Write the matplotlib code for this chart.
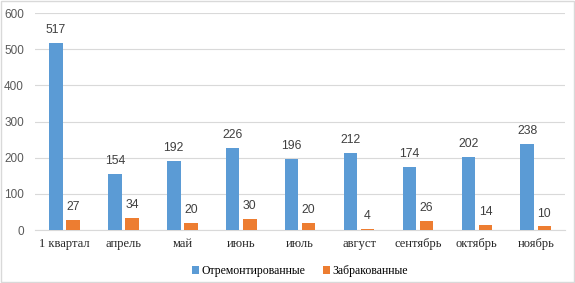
import numpy as np
import matplotlib
matplotlib.use("Agg")
import matplotlib.pyplot as plt

categories = ["1 квартал", "апрель", "май", "июнь", "июль", "август", "сентябрь", "октябрь", "ноябрь"]
repaired = [517, 154, 192, 226, 196, 212, 174, 202, 238]
rejected = [27, 34, 20, 30, 20, 4, 26, 14, 10]
yticks = [0, 100, 200, 300, 400, 500, 600]

BLUE, ORANGE, GRAY = "#5B9BD5", "#ED7D31", "#595959"

fig = plt.figure(figsize=(5.75, 2.83), dpi=100)
ax = fig.add_axes([0.061, 0.187, 0.922, 0.767])
x = np.arange(len(categories))
w = 0.23
b1 = ax.bar(x - w / 2 - 0.03, repaired, w, color=BLUE, label="Отремонтированные", zorder=3)
b2 = ax.bar(x + w / 2 + 0.03, rejected, w, color=ORANGE, label="Забракованные", zorder=3)
for bars in (b1, b2):
    ax.bar_label(bars, padding=5, fontsize=8.8, color="#404040", family="Liberation Sans")

ax.set_xlim(-0.5, len(categories) - 0.5)
ax.set_ylim(0, 600)
ax.set_yticks(yticks)
ax.set_xticks(x)
ax.set_xticklabels(categories, family="Liberation Serif", fontsize=9, color="#262626")
ax.tick_params(axis="x", length=0, pad=6)
ax.tick_params(axis="y", length=0, pad=8, labelsize=8.5, labelcolor=GRAY)
for lbl in ax.get_yticklabels():
    lbl.set_family("Liberation Sans")
ax.grid(axis="y", color="#D9D9D9", lw=0.8, zorder=0)
for s in ("top", "right", "left"):
    ax.spines[s].set_visible(False)
ax.spines["bottom"].set_color("#D9D9D9")

ax.legend(loc="center", bbox_to_anchor=(0.5, -0.19), ncol=2, frameon=False,
          handlelength=0.6, handleheight=0.6, handletextpad=0.2, columnspacing=1.5,
          prop={"family": "Liberation Serif", "size": 8.5})

fig.patches.append(plt.Rectangle((0.001, 0.002), 0.997, 0.995, transform=fig.transFigure,
                                 fill=False, edgecolor="#D9D9D9", lw=1))
fig.savefig("out.png", dpi=100)
